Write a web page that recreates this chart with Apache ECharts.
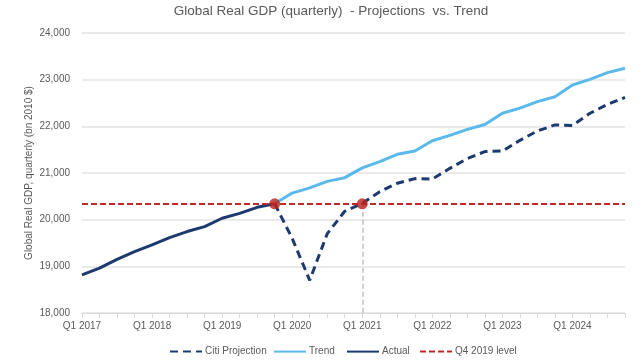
<!DOCTYPE html>
<html>
<head>
<meta charset="utf-8">
<script src="https://cdn.jsdelivr.net/npm/echarts@6/dist/echarts.min.js"></script>
<style>html,body{margin:0;padding:0;background:#fff}#c{width:640px;height:360px}</style>
</head>
<body>
<div id="c"></div>
<script>
const categories = [
  'Q1 2017','Q2 2017','Q3 2017','Q4 2017',
  'Q1 2018','Q2 2018','Q3 2018','Q4 2018',
  'Q1 2019','Q2 2019','Q3 2019','Q4 2019',
  'Q1 2020','Q2 2020','Q3 2020','Q4 2020',
  'Q1 2021','Q2 2021','Q3 2021','Q4 2021',
  'Q1 2022','Q2 2022','Q3 2022','Q4 2022',
  'Q1 2023','Q2 2023','Q3 2023','Q4 2023',
  'Q1 2024','Q2 2024','Q3 2024','Q4 2024'
];
const actual = [18815,18960,19150,19315,19460,19615,19745,19850,20030,20135,20265,20340,
  null,null,null,null,null,null,null,null,null,null,null,null,null,null,null,null,null,null,null,null];
const projection = [null,null,null,null,null,null,null,null,null,null,null,20340,
  19600,18700,19700,20180,20350,20600,20780,20880,20870,21100,21310,21460,
  21470,21700,21900,22030,22020,22280,22470,22620];
const trend = [null,null,null,null,null,null,null,null,null,null,null,20340,
  20570,20680,20820,20900,21110,21245,21400,21470,21690,21805,21935,22040,
  22280,22390,22530,22635,22885,23005,23150,23245];
const q4Level = 20340;
const markers = [['Q4 2019', 20340], ['Q1 2021', 20340]];
const yTicks = [18000, 19000, 20000, 21000, 22000, 23000, 24000];
const legendNames = ['Citi Projection', 'Trend', 'Actual', 'Q4 2019 level'];

const FONT = '"Liberation Sans",Arial,sans-serif';
const NAVY = '#1c3a70';
const LIGHT = '#5ab9ec';
const RED = '#c0282a';
const TXT = '#595959';
const legendLeft = [164, 268, 341, 414];

const chart = echarts.init(document.getElementById('c'));
chart.setOption({
  animation: false,
  textStyle: {fontFamily: FONT},
  title: {
    text: 'Global Real GDP (quarterly)  - Projections  vs. Trend',
    left: 331, top: 4, textAlign: 'center', padding: 0,
    textStyle: {fontFamily: FONT, fontSize: 13.5, fontWeight: 'normal', color: TXT}
  },
  grid: {left: 82, right: 15, top: 33, bottom: 47, containLabel: false},
  legend: legendNames.map((n, i) => ({
    left: legendLeft[i], top: 341, itemWidth: 32, itemHeight: 14, itemGap: 0,
    itemStyle: {opacity: 0},
    textStyle: {fontFamily: FONT, fontSize: 10, color: TXT, padding: [0, 0, 0, -2]},
    data: [n]
  })),
  xAxis: {
    type: 'category', data: categories, boundaryGap: false,
    axisLine: {lineStyle: {color: '#d9d9d9', width: 1}},
    axisTick: {show: true, interval: 0, length: 5, lineStyle: {color: '#d9d9d9'}},
    axisLabel: {interval: 3, color: TXT, fontSize: 10, fontFamily: FONT, margin: 8},
    splitLine: {show: false}
  },
  yAxis: {
    type: 'value', min: yTicks[0], max: yTicks[yTicks.length - 1], interval: 1000,
    name: 'Global Real GDP, quarterly (bn 2010 $)', nameLocation: 'middle', nameGap: 48,
    nameMoveOverlap: false,
    nameTextStyle: {color: TXT, fontSize: 10, fontFamily: FONT},
    axisLine: {show: false}, axisTick: {show: false},
    axisLabel: {color: TXT, fontSize: 10, fontFamily: FONT, margin: 12,
      formatter: v => v.toLocaleString('en-US')},
    splitLine: {lineStyle: {color: '#e3e3e3', width: 1.5}}
  },
  series: [
    {
      name: 'Citi Projection', type: 'line', data: projection, symbol: 'none',
      lineStyle: {color: NAVY, width: 3, type: [8, 5]}, itemStyle: {color: NAVY}, z: 3,
      markLine: {
        silent: true, symbol: 'none', label: {show: false},
        lineStyle: {color: '#bfbfbf', width: 1.5, type: [5, 3]},
        data: [[{coord: ['Q1 2021', q4Level]}, {coord: ['Q1 2021', yTicks[0]]}]]
      }
    },
    {
      name: 'Trend', type: 'line', data: trend, symbol: 'none',
      lineStyle: {color: LIGHT, width: 3}, itemStyle: {color: LIGHT}, z: 2
    },
    {
      name: 'Actual', type: 'line', data: actual, symbol: 'none',
      lineStyle: {color: NAVY, width: 3}, itemStyle: {color: NAVY}, z: 3
    },
    {
      name: 'Q4 2019 level', type: 'line', data: [], symbol: 'none',
      lineStyle: {color: RED, width: 2, type: [6, 3]}, itemStyle: {color: RED}, z: 4,
      markLine: {
        silent: true, symbol: 'none', label: {show: false},
        lineStyle: {color: RED, width: 2, type: [6, 3]},
        data: [{yAxis: q4Level}]
      }
    },
    {
      name: 'markers', type: 'scatter', data: markers, symbol: 'circle', symbolSize: 11,
      itemStyle: {color: '#b8231e'}, z: 5
    }
  ]
});
</script>
</body>
</html>
